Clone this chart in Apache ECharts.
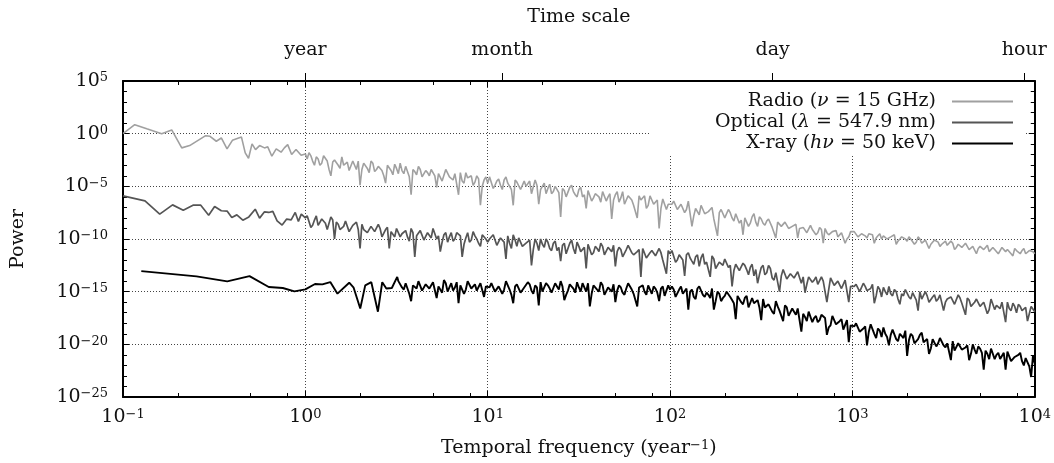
<!DOCTYPE html>
<html>
<head>
<meta charset="utf-8">
<script src="https://cdn.jsdelivr.net/npm/echarts@6/dist/echarts.min.js"></script>
<style>html,body{margin:0;padding:0;background:#fff}#c{width:1054px;height:463px}</style>
</head>
<body>
<div id="c"></div>
<script>
// ---------------- data ----------------
const seriesNames = ['Radio (ν = 15 GHz)', 'Optical (λ = 547.9 nm)', 'X-ray (hν = 50 keV)'];
const legendLabels = ['{t|Radio (}{i|ν}{t| = 15 GHz)}', '{t|Optical (}{i|λ}{t| = 547.9 nm)}', '{t|X-ray (}{i|hν}{t| = 50 keV)}'];

// frequency grids above 1 / year: mantissas within each decade
const mantissa = [1.047, 1.096, 1.148, 1.202, 1.259, 1.318, 1.380, 1.445, 1.514, 1.585,
  1.660, 1.738, 1.820, 1.905, 1.995, 2.089, 2.188, 2.291, 2.399, 2.512,
  2.630, 2.754, 2.884, 3.020, 3.162, 3.311, 3.467, 3.631, 3.802, 3.981,
  4.169, 4.365, 4.571, 4.786, 5.012, 5.248, 5.495, 5.754, 6.026, 6.310,
  6.607, 6.918, 7.244, 7.586, 7.943, 8.318, 8.710, 9.120, 9.550, 10.0];
const midMantissa = [1.023, 1.072, 1.122, 1.175, 1.230, 1.288, 1.349, 1.413, 1.479, 1.549,
  1.622, 1.698, 1.778, 1.862, 1.950, 2.042, 2.138, 2.239, 2.344, 2.455,
  2.570, 2.692, 2.818, 2.951, 3.090, 3.236, 3.388, 3.548, 3.715, 3.890,
  4.074, 4.266, 4.467, 4.677, 4.898, 5.129, 5.370, 5.623, 5.888, 6.166,
  6.457, 6.761, 7.079, 7.413, 7.762, 8.128, 8.511, 8.913, 9.333, 9.772];
const decadeStarts = [1, 10, 100, 1000];

// values are log10(power)
const radioLowFreq = [0.1, 0.116, 0.135, 0.163, 0.185, 0.21, 0.232, 0.284, 0.30, 0.325, 0.346, 0.372, 0.398, 0.446, 0.468, 0.488, 0.51, 0.533, 0.561, 0.597, 0.622, 0.655, 0.692, 0.736, 0.767, 0.80, 0.841, 0.889, 0.948, 1.0];
const radioLowExp = [0.0, 0.85, 0.47, 0.0, 0.35, -1.35, -1.13, -0.19, -0.25, -0.72, -0.41, -1.44, -0.63, -0.31, -1.82, -2.33, -0.97, -1.51, -1.13, -1.35, -1.25, -2.14, -1.44, -1.76, -1.35, -1.04, -1.98, -1.51, -2.05, -1.92];
const radioHighExp = [
  -1.8, -2.6, -2.2, -3.0, -2.1, -2.6, -4.0, -2.5, -3.0, -2.2, -3.0, -3.5, -2.6, -3.4, -4.9, -2.8, -3.3, -2.6, -3.6, -3.1,
  -3.5, -4.7, -2.9, -3.9, -3.3, -2.8, -3.8, -3.2, -5.8, -3.6, -3.1, -4.1, -3.5, -4.0, -3.4, -5.1, -3.8, -4.4, -3.4, -4.1,
  -3.8, -5.8, -4.5, -3.7, -4.3, -4.9, -4.0, -6.8, -4.4, -4.7,
  -4.0, -4.9, -4.3, -5.3, -4.1, -4.8, -6.8, -4.6, -5.3, -4.5, -5.1, -5.7, -4.4, -6.7, -5.0, -5.7, -4.8, -5.5, -5.1, -7.9,
  -5.4, -6.1, -4.9, -5.8, -5.3, -6.0, -7.1, -5.3, -6.1, -5.7, -6.5, -5.4, -6.0, -8.1, -5.8, -6.5, -5.5, -6.3, -5.9, -6.8,
  -8.0, -6.3, -5.9, -6.8, -6.3, -6.8, -9.0, -6.2, -7.2, -6.6,
  -6.4, -7.2, -6.7, -7.5, -6.4, -8.8, -7.1, -7.7, -6.8, -7.6, -7.2, -8.1, -9.7, -7.2, -8.0, -7.2, -8.0, -7.6, -8.5, -9.6,
  -8.0, -8.5, -7.6, -8.8, -8.1, -8.7, -8.1, -8.9, -9.9, -8.5, -8.9, -8.4, -9.1, -8.7, -9.9, -9.1, -8.8, -9.4, -9.1, -9.6,
  -8.9, -10.4, -9.4, -9.6, -9.2, -9.8, -9.4, -10.4, -9.8, -9.4,
  -9.3, -9.8, -9.5, -9.9, -9.4, -10.4, -9.7, -10.0, -9.6, -10.1, -9.8, -10.5, -10.0, -9.8, -10.2, -10.0, -10.5, -9.8, -10.4, -10.1,
  -10.9, -10.4, -10.1, -10.7, -10.4, -10.6, -10.2, -11.0, -10.5, -10.8, -10.4, -11.0, -10.7, -11.4, -10.7, -11.0, -10.6, -11.2, -11.0, -11.4,
  -10.8, -11.2, -11.0, -11.6, -11.1, -11.4, -10.9, -11.5, -11.2, -11.4];
const radioMidExp = [
  -2.4, -2.1, -3.0, -2.4, -2.8, -2.2, -3.4, -2.7, -2.4, -3.3, -3.0, -2.7, -3.6, -3.0, -2.6, -3.4, -2.9, -3.7, -2.8, -3.4,
  -3.2, -4.0, -3.0, -3.5, -2.9, -3.8, -3.5, -3.1, -4.1, -3.4, -3.9, -3.4, -4.2, -3.7, -3.4, -4.0, -3.8, -4.5, -3.4, -4.1,
  -4.4, -3.9, -3.7, -4.7, -4.2, -4.0, -4.6, -4.3, -5.0, -4.1,
  -4.1, -5.2, -4.5, -4.9, -4.4, -4.7, -5.3, -4.4, -4.6, -5.3, -5.0, -4.5, -5.6, -4.9, -5.3, -4.7, -5.2, -5.7, -5.0, -5.6,
  -5.2, -6.0, -5.1, -5.5, -6.0, -5.1, -5.8, -5.4, -6.4, -5.7, -6.0, -5.5, -6.4, -5.7, -6.3, -5.5, -6.1, -6.7, -5.9, -6.3,
  -6.7, -5.9, -6.3, -7.1, -5.9, -6.7, -6.3, -7.1, -6.2, -6.7,
  -6.7, -6.4, -7.3, -6.7, -7.2, -6.5, -7.8, -7.0, -6.8, -7.6, -7.4, -7.0, -8.0, -7.5, -7.1, -8.0, -7.5, -8.3, -7.5, -8.2,
  -8.0, -8.8, -7.9, -8.4, -7.9, -8.5, -8.3, -8.1, -8.9, -8.4, -8.8, -8.4, -9.0, -8.8, -8.6, -9.0, -8.9, -9.4, -8.7, -9.2,
  -9.4, -9.1, -9.0, -9.6, -9.3, -9.2, -9.7, -9.4, -10.0, -9.3,
  -9.3, -9.8, -9.5, -9.7, -9.5, -9.6, -9.9, -9.5, -9.7, -10.0, -9.8, -9.6, -10.2, -9.8, -10.0, -9.8, -10.0, -10.3, -10.0, -10.3,
  -10.1, -10.5, -10.1, -10.3, -10.5, -10.2, -10.5, -10.4, -10.8, -10.5, -10.7, -10.5, -10.9, -10.6, -10.9, -10.6, -10.8, -11.2, -10.8, -11.0,
  -11.1, -10.8, -11.0, -11.4, -10.9, -11.2, -11.1, -11.4, -11.1, -11.2];

const opticalLowFreq = [0.1, 0.132, 0.159, 0.187, 0.214, 0.242, 0.267, 0.295, 0.318, 0.346, 0.373, 0.395, 0.421, 0.454, 0.49, 0.531, 0.561, 0.597, 0.63, 0.663, 0.70, 0.746, 0.79, 0.836, 0.88, 0.916, 0.95, 1.0];
const opticalLowExp = [-5.91, -6.38, -7.64, -6.76, -7.26, -6.79, -6.79, -7.74, -6.92, -7.32, -7.36, -7.95, -7.71, -8.21, -7.9, -7.17, -8.02, -7.42, -7.48, -7.38, -8.27, -8.68, -8.11, -8.18, -7.48, -8.33, -7.64, -8.0];
const opticalHighExp = [
  -7.9, -8.7, -7.8, -8.6, -8.2, -9.1, -7.9, -10.0, -8.6, -9.0, -8.3, -9.3, -8.7, -8.4, -10.9, -9.1, -9.4, -8.8, -9.3, -8.6,
  -9.8, -9.1, -10.9, -9.4, -9.0, -9.8, -9.4, -9.8, -9.0, -11.7, -9.6, -9.3, -10.1, -9.4, -9.0, -10.0, -11.2, -9.6, -10.3, -9.4,
  -10.0, -9.5, -11.7, -9.9, -10.3, -9.3, -10.0, -10.7, -9.6, -10.3,
  -10.0, -9.6, -10.6, -9.9, -11.9, -10.4, -9.6, -10.7, -10.0, -10.6, -10.3, -12.5, -10.0, -11.1, -10.5, -10.0, -10.9, -10.4, -11.1, -12.1,
  -10.4, -10.9, -10.1, -11.4, -10.7, -11.1, -12.8, -10.5, -11.3, -10.9, -10.4, -11.5, -10.8, -11.2, -12.6, -10.8, -11.7, -11.0, -10.6, -11.5,
  -11.2, -13.6, -10.9, -11.7, -11.1, -11.6, -10.9, -12.0, -13.3, -11.4,
  -11.2, -12.0, -11.6, -13.5, -11.3, -12.1, -11.7, -12.6, -11.4, -12.2, -13.6, -11.9, -12.7, -12.3, -11.9, -12.7, -14.5, -12.4, -13.0, -12.3,
  -12.9, -12.7, -13.5, -14.2, -12.7, -13.4, -12.5, -13.7, -13.2, -15.0, -12.9, -13.8, -13.3, -13.7, -13.1, -14.2, -15.1, -13.6, -14.1, -13.6,
  -14.4, -14.0, -16.0, -13.7, -14.4, -14.0, -14.7, -13.9, -16.0, -14.6,
  -14.3, -15.0, -14.2, -14.9, -14.7, -16.1, -14.5, -15.5, -15.0, -14.5, -15.4, -15.0, -16.2, -15.4, -14.9, -15.7, -15.1, -16.8, -15.7, -15.0,
  -16.0, -15.5, -15.9, -15.3, -16.8, -15.7, -15.5, -16.2, -15.3, -16.1, -17.2, -15.8, -16.5, -15.7, -16.4, -16.0, -17.1, -15.7, -16.7, -16.3,
  -16.0, -17.9, -16.6, -16.1, -17.0, -16.4, -16.9, -17.8, -16.4, -16.9];
const opticalMidExp = [
  -7.8, -8.9, -8.2, -8.7, -8.1, -8.5, -9.0, -8.2, -8.4, -9.1, -8.8, -8.3, -9.4, -8.8, -9.1, -8.6, -9.0, -9.5, -8.8, -9.4,
  -9.0, -9.8, -8.9, -9.3, -9.8, -8.9, -9.5, -9.2, -10.2, -9.4, -9.7, -9.2, -10.1, -9.4, -9.9, -9.1, -9.7, -10.3, -9.4, -9.8,
  -10.2, -9.4, -9.7, -10.5, -9.4, -10.1, -9.7, -10.4, -9.6, -10.0,
  -10.0, -9.6, -10.6, -9.9, -10.3, -9.7, -10.9, -10.1, -9.9, -10.7, -10.4, -10.1, -11.0, -10.4, -10.0, -10.8, -10.3, -11.1, -10.2, -10.8,
  -10.6, -11.4, -10.4, -10.9, -10.3, -11.2, -10.8, -10.5, -11.5, -10.7, -11.2, -10.7, -11.5, -11.0, -10.6, -11.2, -11.0, -11.7, -10.6, -11.3,
  -11.6, -11.0, -10.9, -11.8, -11.3, -11.1, -11.7, -11.3, -12.1, -11.1,
  -11.1, -12.2, -11.5, -12.0, -11.5, -11.8, -12.4, -11.5, -11.8, -12.4, -12.2, -11.6, -12.8, -12.2, -12.5, -12.0, -12.5, -13.0, -12.3, -13.0,
  -12.5, -13.4, -12.4, -12.9, -13.4, -12.5, -13.2, -12.8, -13.9, -13.2, -13.5, -13.0, -13.9, -13.3, -13.8, -13.1, -13.6, -14.3, -13.5, -13.9,
  -14.3, -13.6, -13.9, -14.8, -13.7, -14.4, -14.1, -14.8, -14.0, -14.5,
  -14.5, -14.2, -15.0, -14.5, -14.9, -14.3, -15.4, -14.8, -14.6, -15.3, -15.2, -14.8, -15.7, -15.2, -14.8, -15.5, -15.1, -15.8, -15.0, -15.6,
  -15.4, -16.1, -15.3, -15.7, -15.2, -16.0, -15.7, -15.4, -16.3, -15.6, -16.1, -15.6, -16.4, -16.0, -15.7, -16.2, -16.0, -16.7, -15.7, -16.3,
  -16.6, -16.1, -16.0, -16.8, -16.4, -16.2, -16.8, -16.5, -17.1, -16.3];

const xrayLowFreq = [0.126, 0.253, 0.373, 0.494, 0.63, 0.752, 0.871, 1.0, 1.13, 1.24, 1.37, 1.5, 1.74, 1.84, 2.0, 2.13, 2.3, 2.5, 2.64, 2.78, 2.98, 3.19];
const xrayLowExp = [-13.05, -13.55, -14.02, -13.52, -14.56, -14.65, -14.97, -14.78, -14.27, -14.31, -14.09, -15.19, -14.15, -14.62, -16.6, -14.4, -14.1, -16.9, -14.1, -14.7, -14.65, -13.6];
const xrayHighExp = [
  null, null, null, null, null, null, null, null, null, null, null, null, null, null, null, null, null, null, null, null,
  null, null, null, null, null,
  -13.9, -14.8, -14.2, -15.9, -14.5, -14.0, -14.9, -14.3, -14.7, -14.1, -15.6, -14.4, -13.9, -15.0, -14.2, -14.6, -16.1, -14.3, -14.8, -14.0,
  -14.5, -14.9, -14.2, -15.5, -14.4,
  -14.2, -15.0, -14.5, -15.2, -14.0, -14.8, -16.1, -14.3, -15.1, -14.6, -14.1, -14.9, -14.4, -16.3, -15.0, -14.2, -14.7, -15.2, -14.5, -14.0,
  -15.8, -14.9, -14.3, -15.1, -14.6, -14.2, -15.0, -16.4, -14.4, -14.8, -14.1, -15.3, -14.6, -15.0, -16.0, -14.4, -15.1, -14.7, -14.2, -15.2,
  -16.4, -14.6, -15.0, -14.4, -15.2, -14.7, -15.9, -14.5, -15.3, -14.8,
  -14.8, -15.4, -14.5, -15.3, -16.7, -14.8, -15.7, -14.5, -15.3, -15.1, -15.6, -16.7, -15.0, -15.9, -15.4, -15.0, -15.8, -17.6, -15.5, -16.2,
  -15.4, -16.5, -16.1, -15.8, -17.7, -16.5, -16.2, -16.9, -15.9, -16.8, -17.8, -16.5, -17.2, -16.9, -16.6, -18.8, -17.4, -16.9, -17.9, -17.3,
  -17.7, -17.1, -19.1, -18.2, -17.7, -18.2, -17.6, -18.6, -19.8, -18.3,
  -18.0, -18.8, -18.5, -20.1, -18.1, -19.0, -18.5, -19.3, -19.0, -20.1, -18.6, -19.5, -19.0, -19.4, -21.1, -19.0, -19.9, -19.5, -18.9, -19.9,
  -20.9, -19.5, -20.2, -19.4, -20.1, -19.9, -21.5, -20.6, -19.9, -20.5, -20.3, -21.5, -20.0, -20.9, -20.4, -22.4, -20.9, -20.4, -21.4, -20.8,
  -21.3, -22.4, -20.8, -21.6, -21.2, -20.8, -22.0, -21.2, -23.1, -21.8];
const xrayMidExp = [
  null, null, null, null, null, null, null, null, null, null, null, null, null, null, null, null, null, null, null, null,
  null, null, null, null, null,
  -14.0, -14.6, -14.2, -15.2, -14.4, -14.7, -14.1, -15.0, -14.3, -14.8, -14.0, -14.5, -15.1, -14.2, -14.6, -14.9, -14.1, -14.4, -15.2, -14.0,
  -14.7, -14.3, -15.0, -14.1, -14.5,
  -14.6, -14.2, -15.1, -14.4, -14.8, -14.1, -15.3, -14.5, -14.2, -15.0, -14.7, -14.3, -15.2, -14.6, -14.1, -14.9, -14.4, -15.1, -14.2, -14.8,
  -14.5, -15.3, -14.3, -14.7, -14.1, -15.0, -14.6, -14.2, -15.2, -14.4, -15.0, -14.4, -15.2, -14.7, -14.3, -14.9, -14.6, -15.3, -14.2, -14.8,
  -15.2, -14.6, -14.4, -15.3, -14.8, -14.5, -15.1, -14.7, -15.4, -14.4,
  -14.5, -15.5, -14.8, -15.2, -14.7, -15.0, -15.5, -14.7, -14.9, -15.5, -15.3, -14.7, -15.9, -15.2, -15.6, -15.0, -15.5, -16.1, -15.4, -16.0,
  -15.6, -16.5, -15.6, -16.0, -16.5, -15.7, -16.4, -16.1, -17.1, -16.4, -16.8, -16.3, -17.3, -16.6, -17.2, -16.5, -17.1, -17.8, -17.0, -17.5,
  -17.9, -17.2, -17.5, -18.4, -17.3, -18.1, -17.8, -18.6, -17.7, -18.2,
  -18.3, -18.0, -18.9, -18.3, -18.8, -18.1, -19.4, -18.7, -18.4, -19.3, -19.1, -18.7, -19.7, -19.2, -18.7, -19.6, -19.2, -19.9, -19.1, -19.8,
  -19.5, -20.4, -19.4, -19.9, -19.4, -20.3, -20.0, -19.7, -20.7, -20.0, -20.6, -20.1, -20.9, -20.5, -20.2, -20.8, -20.6, -21.4, -20.3, -21.0,
  -21.4, -20.8, -20.7, -21.6, -21.2, -21.0, -21.6, -21.3, -22.1, -21.1];

// axes
const xRange = [0.1, 1e4];
const yRange = [1e-25, 1e5];
const xMajorExps = [-1, 0, 1, 2, 3, 4];
const xMinorMultipliers = [2, 5, 8];
const timeScaleNames = ['year', 'month', 'day', 'hour'];
const timeScalePerYear = [1, 12, 365.25, 8766];

// ---------------- build ----------------
const highFreq = [], midFreq = [];
decadeStarts.forEach(d => {
  mantissa.forEach(m => highFreq.push(+(d * m).toPrecision(4)));
  midMantissa.forEach(m => midFreq.push(+(d * m).toPrecision(4)));
});

function buildData(lowF, lowE, highE, midE) {
  const out = lowF.map((f, i) => [f, Math.pow(10, lowE[i])]);
  highE.forEach((e, i) => { if (e !== null) out.push([highFreq[i], Math.pow(10, e)]); });
  midE.forEach((e, i) => { if (e !== null) out.push([midFreq[i], Math.pow(10, e)]); });
  out.sort((a, b) => a[0] - b[0]);
  return out;
}
const radioData = buildData(radioLowFreq, radioLowExp, radioHighExp, radioMidExp);
const opticalData = buildData(opticalLowFreq, opticalLowExp, opticalHighExp, opticalMidExp);
const xrayData = buildData(xrayLowFreq, xrayLowExp, xrayHighExp, xrayMidExp);

const xMinorLogs = [];
xMajorExps.slice(0, -1).forEach(d => xMinorMultipliers.forEach(m => xMinorLogs.push(d + Math.log10(m))));
const timeLogs = timeScalePerYear.map(v => Math.log10(v));
const xLogMin = Math.log10(xRange[0]), xLogMax = Math.log10(xRange[1]);
const yLogMin = Math.log10(yRange[0]), yLogMax = Math.log10(yRange[1]);

const F = "'DejaVu Serif', serif";
const TXT = '#111';
const FS = 19, SS = 13;
const supRich = {
  b: { fontFamily: F, fontSize: FS, lineHeight: FS, color: TXT },
  t: { fontFamily: F, fontSize: FS, lineHeight: FS, color: TXT },
  s: { fontFamily: F, fontSize: SS, lineHeight: 7, verticalAlign: 'top', color: TXT }
};
function expText(e) { e = Math.round(e); return e < 0 ? '\u2212' + (-e) : String(e); }
function powLabel(v) { return '{b|10}{s|' + expText(v) + '}'; }

const border = { show: true, onZero: false, lineStyle: { color: '#000', width: 2 } };
const noLine = { show: false, onZero: false };
const gridLine = { show: true, lineStyle: { color: '#444', width: 1, type: [1, 2] } };
const majorTick = { show: true, inside: true, length: 6, lineStyle: { color: '#000', width: 1 } };
const minorTickStyle = { show: true, inside: true, length: 4, lineStyle: { color: '#000', width: 1 } };

const option = {
  animation: false,
  backgroundColor: '#fff',
  grid: { left: 123, right: 16, top: 81, bottom: 64, containLabel: false },
  legend: {
    orient: 'vertical', align: 'right', right: 29, top: 82,
    padding: [9, 12, 2, 64], backgroundColor: '#fff',
    itemGap: 0, itemWidth: 61, itemHeight: 2, icon: 'rect', selectedMode: false,
    data: seriesNames,
    formatter: name => legendLabels[seriesNames.indexOf(name)],
    textStyle: {
      fontFamily: F, fontSize: FS, lineHeight: 21, color: TXT, padding: [0, 11, 0, 0],
      rich: {
        t: { fontFamily: F, fontSize: FS, lineHeight: 21, color: TXT },
        i: { fontFamily: F, fontSize: FS, lineHeight: 21, color: TXT, fontStyle: 'italic' }
      }
    }
  },
  xAxis: [
    { type: 'log', logBase: 10, min: xRange[0], max: xRange[1], position: 'bottom', show: false },
    { type: 'value', min: xLogMin, max: xLogMax, interval: 1, position: 'bottom',
      axisLine: border, axisTick: majorTick, splitLine: gridLine,
      axisLabel: { formatter: powLabel, margin: 11, rich: supRich },
      name: '{t|Temporal frequency (year}{s|\u22121}{t|)}', nameLocation: 'middle', nameGap: 42,
      nameTextStyle: { rich: supRich } },
    { type: 'value', min: xLogMin, max: xLogMax, position: 'bottom', axisLine: noLine,
      axisTick: Object.assign({ customValues: xMinorLogs }, minorTickStyle), axisLabel: { show: false }, splitLine: { show: false } },
    { type: 'value', min: xLogMin, max: xLogMax, interval: 1, position: 'top',
      axisLine: border, axisTick: majorTick, axisLabel: { show: false }, splitLine: { show: false } },
    { type: 'value', min: xLogMin, max: xLogMax, position: 'top', axisLine: noLine,
      axisTick: Object.assign({ customValues: xMinorLogs }, minorTickStyle), axisLabel: { show: false }, splitLine: { show: false } },
    { type: 'value', min: xLogMin, max: xLogMax, position: 'top', axisLine: noLine,
      axisTick: { show: true, inside: false, length: 8, customValues: timeLogs, lineStyle: { color: '#000', width: 1 } },
      axisLabel: { show: true, customValues: timeLogs, margin: 21, fontFamily: F, fontSize: FS, color: TXT,
        formatter: v => { let k = 0; timeLogs.forEach((t, i) => { if (Math.abs(t - v) < 1e-6) k = i; }); return timeScaleNames[k]; } },
      splitLine: { show: false },
      name: 'Time scale', nameLocation: 'middle', nameGap: 54,
      nameTextStyle: { fontFamily: F, fontSize: FS, color: TXT } }
  ],
  yAxis: [
    { type: 'log', logBase: 10, min: yRange[0], max: yRange[1], position: 'left', show: false },
    { type: 'value', min: yLogMin, max: yLogMax, interval: 5, position: 'left',
      axisLine: border, axisTick: majorTick, splitLine: gridLine,
      axisLabel: { formatter: powLabel, margin: 15, rich: supRich },
      name: 'Power', nameLocation: 'middle', nameGap: 95,
      nameTextStyle: { fontFamily: F, fontSize: FS, color: TXT } },
    { type: 'value', min: yLogMin, max: yLogMax, interval: 1, position: 'left', axisLine: noLine,
      axisTick: minorTickStyle, axisLabel: { show: false }, splitLine: { show: false } },
    { type: 'value', min: yLogMin, max: yLogMax, interval: 5, position: 'right',
      axisLine: border, axisTick: majorTick, axisLabel: { show: false }, splitLine: { show: false } },
    { type: 'value', min: yLogMin, max: yLogMax, interval: 1, position: 'right', axisLine: noLine,
      axisTick: minorTickStyle, axisLabel: { show: false }, splitLine: { show: false } }
  ],
  series: [
    { name: seriesNames[0], type: 'line', xAxisIndex: 0, yAxisIndex: 0, data: radioData,
      showSymbol: false, symbol: 'none', silent: true, color: '#a0a0a0', lineStyle: { width: 1.6, color: '#a0a0a0' } },
    { name: seriesNames[1], type: 'line', xAxisIndex: 0, yAxisIndex: 0, data: opticalData,
      showSymbol: false, symbol: 'none', silent: true, color: '#555555', lineStyle: { width: 1.7, color: '#555555' } },
    { name: seriesNames[2], type: 'line', xAxisIndex: 0, yAxisIndex: 0, data: xrayData,
      showSymbol: false, symbol: 'none', silent: true, color: '#000000', lineStyle: { width: 1.9, color: '#000000' } }
  ]
};
const chart = echarts.init(document.getElementById('c'), null, { renderer: 'canvas' });
chart.setOption(option);
</script>
</body>
</html>
